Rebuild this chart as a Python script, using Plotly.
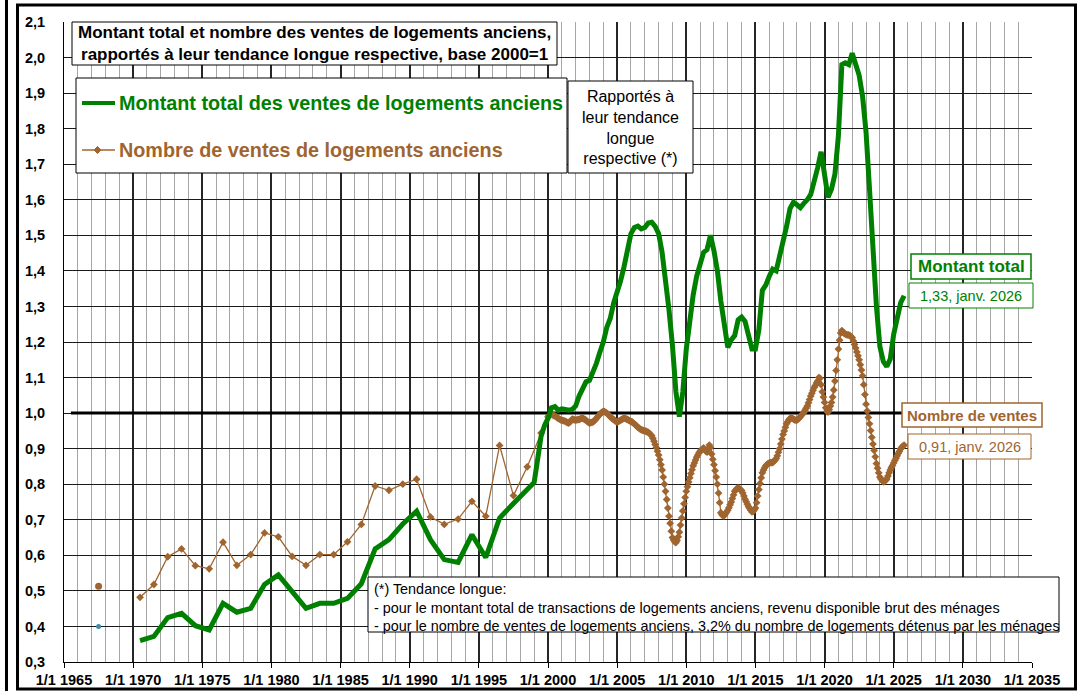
import plotly.graph_objects as go

# --- data (ratio to long-term trend, base 2000 = 1) ---
annual_years = [1970.5, 1971.5, 1972.5, 1973.5, 1974.5, 1975.5, 1976.5, 1977.5, 1978.5, 1979.5,
                1980.5, 1981.5, 1982.5, 1983.5, 1984.5, 1985.5, 1986.5, 1987.5, 1988.5, 1989.5,
                1990.5, 1991.5, 1992.5, 1993.5, 1994.5, 1995.5, 1996.5, 1997.5, 1998.5, 1999.5]

montant_annual = [0.360, 0.372, 0.425, 0.437, 0.402, 0.390, 0.465, 0.440, 0.451, 0.518,
                  0.545, 0.497, 0.451, 0.465, 0.465, 0.479, 0.520, 0.618, 0.644, 0.688,
                  0.724, 0.644, 0.588, 0.580, 0.658, 0.594, 0.705, 0.746, 0.788]

nombre_annual = [0.482, 0.518, 0.596, 0.618, 0.571, 0.562, 0.637, 0.572, 0.602, 0.663,
                 0.652, 0.597, 0.572, 0.602, 0.602, 0.638, 0.687, 0.795, 0.783, 0.800,
                 0.814, 0.708, 0.687, 0.702, 0.752, 0.710, 0.909, 0.768, 0.849, 0.944]

# montant total: quarterly from 1999 (Q1..Q4 per row)
montant_quarterly = [
    0.805, 0.870, 0.935, 0.965,   # 1999
    0.985, 1.015, 1.018, 1.008,   # 2000
    1.012, 1.010, 1.008, 1.010,   # 2001
    1.020, 1.048, 1.070, 1.088,   # 2002
    1.092, 1.115, 1.140, 1.171,   # 2003
    1.200, 1.241, 1.266, 1.310,   # 2004
    1.340, 1.372, 1.412, 1.458,   # 2005
    1.505, 1.522, 1.526, 1.518,   # 2006
    1.522, 1.535, 1.537, 1.525,   # 2007
    1.505, 1.452, 1.382, 1.290,   # 2008
    1.190, 1.060, 0.990, 1.060,   # 2009
    1.180, 1.270, 1.333, 1.385,   # 2010
    1.420, 1.452, 1.460, 1.500,   # 2011
    1.457, 1.400, 1.315, 1.240,   # 2012
    1.185, 1.206, 1.218, 1.262,   # 2013
    1.270, 1.258, 1.215, 1.180,   # 2014
    1.180, 1.235, 1.345, 1.360,   # 2015
    1.385, 1.405, 1.400, 1.440,   # 2016
    1.480, 1.525, 1.575, 1.593,   # 2017
    1.586, 1.578, 1.590, 1.600,   # 2018
    1.615, 1.650, 1.690, 1.735,   # 2019
    1.660, 1.607, 1.630, 1.672,   # 2020
    1.780, 1.980, 1.985, 1.980,   # 2021
    2.012, 1.975, 1.950, 1.890,   # 2022
    1.790, 1.630, 1.440, 1.300,   # 2023
    1.187, 1.145, 1.131, 1.152,   # 2024
    1.222, 1.270, 1.310, 1.330,   # 2025
]

# nombre de ventes: monthly from January 2000 (Jan..Dec per row)
nombre_monthly = [
    0.990, 0.993, 0.996, 0.997, 0.995, 0.993, 0.992, 0.990, 0.987, 0.985, 0.983, 0.981,  # 2000
    0.980, 0.979, 0.978, 0.977, 0.975, 0.973, 0.972, 0.975, 0.979, 0.983, 0.982, 0.981,  # 2001
    0.980, 0.981, 0.982, 0.982, 0.984, 0.985, 0.986, 0.984, 0.982, 0.980, 0.977, 0.974,  # 2002
    0.972, 0.973, 0.974, 0.975, 0.978, 0.981, 0.985, 0.989, 0.993, 0.997, 1.000, 1.003,  # 2003
    1.005, 1.004, 1.002, 1.000, 0.997, 0.993, 0.990, 0.987, 0.984, 0.982, 0.979, 0.977,  # 2004
    0.975, 0.977, 0.978, 0.980, 0.982, 0.984, 0.986, 0.985, 0.983, 0.982, 0.980, 0.978,  # 2005
    0.977, 0.975, 0.972, 0.970, 0.967, 0.963, 0.960, 0.958, 0.955, 0.953, 0.952, 0.951,  # 2006
    0.950, 0.949, 0.947, 0.946, 0.943, 0.940, 0.936, 0.929, 0.921, 0.912, 0.903, 0.893,  # 2007
    0.882, 0.869, 0.855, 0.840, 0.820, 0.800, 0.780, 0.757, 0.733, 0.710, 0.690, 0.668,  # 2008
    0.650, 0.643, 0.638, 0.636, 0.642, 0.652, 0.665, 0.685, 0.705, 0.725, 0.745, 0.763,  # 2009
    0.780, 0.793, 0.806, 0.818, 0.830, 0.841, 0.852, 0.860, 0.868, 0.876, 0.882, 0.888,  # 2010
    0.893, 0.896, 0.899, 0.902, 0.898, 0.893, 0.890, 0.900, 0.910, 0.903, 0.885, 0.870,  # 2011
    0.855, 0.838, 0.820, 0.800, 0.775, 0.748, 0.720, 0.714, 0.711, 0.712, 0.717, 0.722,  # 2012
    0.727, 0.734, 0.742, 0.750, 0.760, 0.770, 0.780, 0.784, 0.788, 0.790, 0.788, 0.785,  # 2013
    0.782, 0.775, 0.767, 0.758, 0.751, 0.744, 0.737, 0.732, 0.727, 0.722, 0.724, 0.728,  # 2014
    0.733, 0.748, 0.767, 0.785, 0.802, 0.818, 0.832, 0.840, 0.846, 0.852, 0.855, 0.858,  # 2015
    0.860, 0.861, 0.861, 0.861, 0.864, 0.868, 0.872, 0.880, 0.890, 0.900, 0.913, 0.927,  # 2016
    0.940, 0.950, 0.960, 0.970, 0.976, 0.981, 0.985, 0.986, 0.985, 0.983, 0.981, 0.980,  # 2017
    0.980, 0.983, 0.986, 0.990, 0.994, 0.998, 1.002, 1.008, 1.014, 1.020, 1.029, 1.038,  # 2018
    1.048, 1.056, 1.064, 1.072, 1.078, 1.085, 1.090, 1.100, 1.098, 1.080, 1.060, 1.045,  # 2019
    1.030, 1.015, 1.005, 1.003, 1.010, 1.020, 1.030, 1.045, 1.065, 1.090, 1.120, 1.150,  # 2020
    1.180, 1.205, 1.225, 1.232, 1.228, 1.224, 1.222, 1.221, 1.220, 1.220, 1.218, 1.215,  # 2021
    1.212, 1.203, 1.193, 1.183, 1.172, 1.161, 1.150, 1.136, 1.121, 1.105, 1.080, 1.052,  # 2022
    1.025, 1.006, 0.988, 0.970, 0.951, 0.932, 0.913, 0.895, 0.877, 0.858, 0.845, 0.832,  # 2023
    0.820, 0.815, 0.810, 0.807, 0.808, 0.811, 0.815, 0.823, 0.832, 0.840, 0.847, 0.853,  # 2024
    0.860, 0.867, 0.873, 0.880, 0.887, 0.893, 0.900, 0.904, 0.907, 0.910,                # 2025
]

# stray single points at the left of the chart
stray_x = [1967.5]
stray_nombre = [0.513]
stray_montant = [0.40]

ref_x = [1965.5, 2025.6]
ref_y = [1.0, 1.0]

tick_years = list(range(1965, 2036, 5))
tick_year_labels = ["1/1 %d" % y for y in tick_years]
y_ticks = [round(0.3 + 0.1 * i, 1) for i in range(19)]
y_tick_labels = [("%.1f" % v).replace(".", ",") for v in y_ticks]

last_montant = "1,33, janv. 2026"
last_nombre = "0,91, janv. 2026"

montant_q_x = [1999 + 0.25 * i for i in range(len(montant_quarterly))]
nombre_m_x = [2000 + i / 12.0 for i in range(len(nombre_monthly))]

montant_x = annual_years[:len(montant_annual)] + montant_q_x
montant_y = montant_annual + montant_quarterly
nombre_x = annual_years + nombre_m_x
nombre_y = nombre_annual + nombre_monthly

FONT = "Liberation Sans, Arial, sans-serif"
GREEN = "#008000"
BROWN = "#A0652F"

fig = go.Figure()

fig.add_trace(go.Scatter(x=ref_x, y=ref_y, mode="lines",
                         line=dict(color="black", width=3), hoverinfo="skip"))
fig.add_trace(go.Scatter(x=nombre_x, y=nombre_y, mode="lines+markers",
                         line=dict(color=BROWN, width=1.3),
                         marker=dict(symbol="diamond", size=6, color=BROWN),
                         name="Nombre de ventes de logements anciens"))
fig.add_trace(go.Scatter(x=montant_x, y=montant_y, mode="lines",
                         line=dict(color=GREEN, width=5),
                         name="Montant total des ventes de logements anciens"))
fig.add_trace(go.Scatter(x=stray_x, y=stray_nombre, mode="markers",
                         marker=dict(color=BROWN, size=7)))
fig.add_trace(go.Scatter(x=stray_x, y=stray_montant, mode="markers",
                         marker=dict(color="#3C8DAD", size=5)))


# pixel -> paper helpers (plot area is 64..1032 x 22..662)
def px(x):
    return (x - 64) / 968.0


def py(y):
    return (662 - y) / 640.0


def box(x0, y0, x1, y1, color="black", width=1):
    return dict(type="rect", xref="paper", yref="paper", layer="above",
                x0=px(x0), x1=px(x1), y0=py(y1), y1=py(y0),
                line=dict(color=color, width=width), fillcolor="white")


def hline(x0, x1, y, color, width):
    return dict(type="line", xref="paper", yref="paper", layer="above",
                x0=px(x0), x1=px(x1), y0=py(y), y1=py(y),
                line=dict(color=color, width=width))


def label(x, y, text, size, color="black", bold=False, xanchor="center", align="center"):
    return dict(xref="paper", yref="paper", x=px(x), y=py(y), text=text,
                showarrow=False, xanchor=xanchor, yanchor="middle", align=align,
                font=dict(family=FONT, size=size, color=color,
                          weight="bold" if bold else "normal"))


cx, cy, d = 97.5, 150, 3.5
diamond = "M %f,%f L %f,%f L %f,%f L %f,%f Z" % (
    px(cx), py(cy - d), px(cx + d), py(cy), px(cx), py(cy + d), px(cx - d), py(cy))

shapes = [
    # outer frame
    dict(type="line", xref="paper", yref="paper", x0=px(6.5), x1=px(6.5),
         y0=py(0), y1=py(691), line=dict(color="black", width=3)),
    dict(type="rect", xref="paper", yref="paper", x0=px(17.5), x1=px(1075.5),
         y0=py(689), y1=py(5), line=dict(color="black", width=3)),
    box(72, 22, 557, 65),
    box(76, 78, 567, 173),
    box(568, 81, 693, 173),
    box(911, 254, 1031, 279, GREEN, 1.5),
    box(909, 283, 1033, 308, GREEN, 1),
    box(902, 403, 1042, 427, BROWN, 1.5),
    box(908, 434, 1031, 459, BROWN, 1),
    box(368, 577, 1059, 632),
    hline(82, 115, 103, GREEN, 4),
    hline(82, 115, 150, BROWN, 1.3),
    dict(type="path", xref="paper", yref="paper", layer="above", path=diamond,
         fillcolor=BROWN, line=dict(color=BROWN, width=1)),
]

annotations = [
    label(314.5, 43.5, "Montant total et nombre des ventes de logements anciens,<br>"
          "rapportés à leur tendance longue respective, base 2000=1", 17, bold=True),
    label(117, 103, "Montant total des ventes de logements anciens", 19.8, GREEN, True, "left"),
    label(117, 150, "Nombre de ventes de logements anciens", 19.8, BROWN, True, "left"),
    label(630.5, 127, "Rapportés à<br>leur tendance<br>longue<br>respective (*)", 16),
    label(971, 266.5, "Montant total", 17, GREEN, True),
    label(971, 295.5, last_montant, 14.5, GREEN),
    label(972, 415, "Nombre de ventes", 15, BROWN, True),
    label(969.5, 446.5, last_nombre, 14.5, BROWN),
    label(372, 607, "(*) Tendance longue:<br>"
          "- pour le montant total de transactions de logements anciens, revenu disponible brut des ménages<br>"
          "- pour le nombre de ventes de logements anciens, 3,2% du nombre de logements détenus par les ménages",
          14.4, xanchor="left", align="left"),
]

fig.update_layout(
    width=1080, height=691,
    margin=dict(l=64, r=48, t=22, b=29),
    plot_bgcolor="white", paper_bgcolor="white",
    showlegend=False,
    font=dict(family=FONT, color="black"),
    shapes=shapes,
    annotations=annotations,
    xaxis=dict(range=[1965, 2035], tickmode="array", tickvals=tick_years,
               ticktext=tick_year_labels, automargin=False,
               tickfont=dict(size=14.5, weight="bold", color="black"),
               showgrid=True, gridcolor="#262626", gridwidth=1.5,
               minor=dict(tickmode="linear", tick0=1965, dtick=1, showgrid=True,
                          gridcolor="#a6a6a6", gridwidth=1.3),
               showline=True, linecolor="black", linewidth=1,
               ticks="outside", ticklen=5, tickcolor="black", zeroline=False),
    yaxis=dict(range=[0.3, 2.1], tickmode="array", tickvals=y_ticks,
               ticktext=y_tick_labels, automargin=False,
               tickfont=dict(size=14.5, weight="bold", color="black"),
               showgrid=True, gridcolor="#1a1a1a", gridwidth=1,
               showline=True, linecolor="black", linewidth=1,
               ticks="", ticklabelstandoff=15, zeroline=False),
)

fig.write_html("out.html", config={"displayModeBar": False},
               post_script="document.body.style.margin='0px';")
